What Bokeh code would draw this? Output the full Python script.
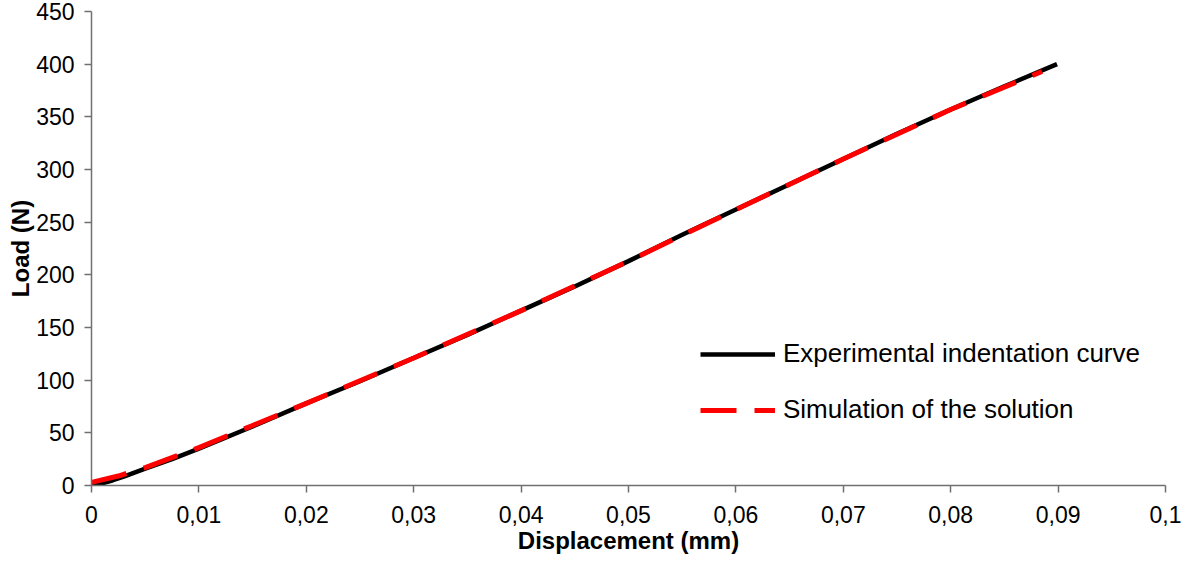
from bokeh.plotting import figure
from bokeh.models import Range1d, CustomJSTickFormatter, FixedTicker, Legend, LegendItem
from bokeh.embed import file_html
from bokeh.resources import INLINE

# Experimental indentation curve
exp_disp = [0, 0.001, 0.002, 0.003, 0.005, 0.0075, 0.01, 0.015, 0.02, 0.025, 0.03,
            0.035, 0.04, 0.045, 0.05, 0.055, 0.06, 0.065, 0.07, 0.075, 0.08, 0.085, 0.0899]
exp_load = [0, 2, 5, 8.5, 16, 25, 35, 56, 78, 99, 121,
            143, 166, 189, 213, 238, 262, 286, 310, 334, 357, 379, 400]

# Simulation of the solution
sim_disp = [0, 0.0025, 0.005, 0.01, 0.015, 0.02, 0.03, 0.04, 0.05, 0.06, 0.07, 0.08, 0.0885]
sim_load = [3, 9, 17, 36, 57, 78, 121, 166, 213, 262, 310, 357, 393]

x_ticks = [0, 0.01, 0.02, 0.03, 0.04, 0.05, 0.06, 0.07, 0.08, 0.09, 0.1]
y_ticks = [0, 50, 100, 150, 200, 250, 300, 350, 400, 450]

FONT = "Liberation Sans"
AXIS_COLOR = "#707070"

p = figure(width=1183, height=564, output_backend="svg", toolbar_location=None,
           x_range=Range1d(0, 0.1), y_range=Range1d(0, 450),
           min_border_left=91, min_border_right=18, min_border_top=11, min_border_bottom=79)
p.outline_line_color = None
p.xgrid.visible = False
p.ygrid.visible = False
p.background_fill_color = "white"
p.border_fill_color = "white"

fmt = CustomJSTickFormatter(code="""
    var v = Math.round(tick * 1000) / 1000;
    return String(v).replace('.', ',');
""")

for ax in (p.xaxis[0], p.yaxis[0]):
    ax.axis_line_color = AXIS_COLOR
    ax.axis_line_width = 1.5
    ax.major_tick_line_color = AXIS_COLOR
    ax.major_tick_line_width = 1.5
    ax.major_tick_out = 7
    ax.major_tick_in = 0
    ax.minor_tick_line_color = None
    ax.major_label_text_font = FONT
    ax.major_label_text_font_size = "23px"
    ax.major_label_text_color = "black"
    ax.axis_label_text_font = FONT
    ax.axis_label_text_font_style = "bold"
    ax.axis_label_text_font_size = "24px"
    ax.axis_label_text_color = "black"
    ax.formatter = fmt

p.xaxis[0].ticker = FixedTicker(ticks=x_ticks)
p.yaxis[0].ticker = FixedTicker(ticks=y_ticks)
p.xaxis[0].axis_label = "Displacement (mm)"
p.yaxis[0].axis_label = "Load (N)"
p.xaxis[0].major_label_standoff = 13
p.yaxis[0].major_label_standoff = 10
p.xaxis[0].axis_label_standoff = 1
p.yaxis[0].axis_label_standoff = -1

r_exp = p.line(exp_disp, exp_load, line_color="black", line_width=4.5)
r_sim = p.line(sim_disp, sim_load, line_color="#ff0000", line_width=5, line_dash="36 18")

legend = Legend(items=[LegendItem(label="Experimental indentation curve", renderers=[r_exp]),
                       LegendItem(label="Simulation of the solution", renderers=[r_sim])],
                location=(609, 60))
legend.border_line_color = None
legend.background_fill_alpha = 0
legend.padding = 0
legend.margin = 0
legend.glyph_width = 75
legend.glyph_height = 30
legend.label_height = 30
legend.spacing = 25
legend.label_standoff = 8
legend.label_text_font = FONT
legend.label_text_font_size = "26px"
legend.label_text_color = "black"
p.add_layout(legend)

open("out.html", "w").write(file_html(p, INLINE))
